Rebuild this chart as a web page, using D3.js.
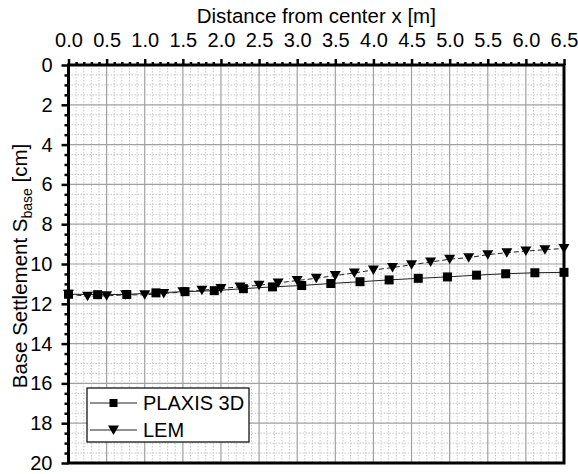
<!DOCTYPE html>
<html>
<head>
<meta charset="utf-8">
<script src="https://cdn.jsdelivr.net/npm/d3@7"></script>
<style>
  html, body { margin: 0; padding: 0; background: #fff; }
  svg { display: block; font-family: "Liberation Sans", Arial, sans-serif; }
</style>
</head>
<body>
<svg id="chart" width="578" height="474"></svg>
<script>
// Base settlement along the distance from the footing center
const plaxisX = [0, 0.382, 0.765, 1.147, 1.529, 1.912, 2.294, 2.676, 3.059, 3.441,
                 3.824, 4.206, 4.588, 4.971, 5.353, 5.735, 6.118, 6.5];
const plaxisS = [11.52, 11.54, 11.53, 11.45, 11.39, 11.34, 11.24, 11.15, 11.08, 10.98,
                 10.89, 10.80, 10.72, 10.65, 10.56, 10.49, 10.44, 10.42];

const lemX = [0, 0.25, 0.5, 0.75, 1.0, 1.25, 1.5, 1.75, 2.0, 2.25, 2.5, 2.75, 3.0,
              3.25, 3.5, 3.75, 4.0, 4.25, 4.5, 4.75, 5.0, 5.25, 5.5, 5.75, 6.0, 6.25, 6.5];
const lemS = [11.52, 11.62, 11.60, 11.55, 11.55, 11.48, 11.40, 11.32, 11.23, 11.15, 11.07, 10.95, 10.83,
              10.72, 10.58, 10.45, 10.30, 10.18, 10.04, 9.90, 9.76, 9.68, 9.53, 9.43, 9.35, 9.28, 9.22];

const xTicks = [0, 0.5, 1.0, 1.5, 2.0, 2.5, 3.0, 3.5, 4.0, 4.5, 5.0, 5.5, 6.0, 6.5];
const yTicks = [0, 2, 4, 6, 8, 10, 12, 14, 16, 18, 20];
const seriesNames = ["PLAXIS 3D", "LEM"];

const svg = d3.select("#chart");
const plotL = 68.5, plotR = 564, plotT = 65, plotB = 463;

const x = d3.scaleLinear().domain([0, 6.5]).range([plotL, plotR]);
const y = d3.scaleLinear().domain([0, 20]).range([plotT, plotB]);

const xMinor = d3.range(0, 65).map(i => i / 10).filter(v => Math.abs(v * 2 - Math.round(v * 2)) > 1e-6);
const yMinor = d3.range(0, 40).map(i => i / 2).filter(v => v % 2 !== 0);

// grid: dotted minor, solid major
const grid = svg.append("g");
grid.selectAll("line.vminor").data(xMinor).join("line")
  .attr("x1", d => x(d)).attr("x2", d => x(d)).attr("y1", plotT).attr("y2", plotB)
  .attr("stroke", "#c8c8c8").attr("stroke-width", 1).attr("stroke-dasharray", "1.5,1.5");
grid.selectAll("line.hminor").data(yMinor).join("line")
  .attr("x1", plotL).attr("x2", plotR).attr("y1", d => y(d)).attr("y2", d => y(d))
  .attr("stroke", "#c8c8c8").attr("stroke-width", 1).attr("stroke-dasharray", "1.5,1.5");
grid.selectAll("line.vmajor").data(xTicks).join("line")
  .attr("x1", d => x(d)).attr("x2", d => x(d)).attr("y1", plotT).attr("y2", plotB)
  .attr("stroke", "#a0a0a0").attr("stroke-width", 1.2);
grid.selectAll("line.hmajor").data(yTicks).join("line")
  .attr("x1", plotL).attr("x2", plotR).attr("y1", d => y(d)).attr("y2", d => y(d))
  .attr("stroke", "#a0a0a0").attr("stroke-width", 1.2);

// series lines
const lineGen = d3.line().x(d => x(d[0])).y(d => y(d[1]));
const plaxisPts = plaxisX.map((v, i) => [v, plaxisS[i]]);
const lemPts = lemX.map((v, i) => [v, lemS[i]]);

svg.append("path").datum(plaxisPts).attr("d", lineGen)
  .attr("fill", "none").attr("stroke", "#222").attr("stroke-width", 1);
svg.append("path").datum(lemPts).attr("d", lineGen)
  .attr("fill", "none").attr("stroke", "#222").attr("stroke-width", 1).attr("stroke-dasharray", "5,3");

const squareSym = d3.symbol().type(d3.symbolSquare).size(81);
const triDown = "M-5.5,-4.5L5.5,-4.5L0,5Z";

svg.append("g").selectAll("path").data(lemPts).join("path")
  .attr("d", triDown).attr("transform", d => `translate(${x(d[0])},${y(d[1])})`).attr("fill", "#000");
svg.append("g").selectAll("path").data(plaxisPts).join("path")
  .attr("d", squareSym).attr("transform", d => `translate(${x(d[0])},${y(d[1])})`).attr("fill", "#000");

// axes
const fmt = d3.format(".1f");
const topAxis = svg.append("g").attr("transform", `translate(0,${plotT})`)
  .call(d3.axisTop(x).tickValues(xTicks).tickSize(6).tickSizeOuter(0).tickFormat(fmt));
const topMinor = svg.append("g").attr("transform", `translate(0,${plotT})`)
  .call(d3.axisTop(x).tickValues(xMinor).tickSize(3).tickSizeOuter(0).tickFormat(""));
const leftAxis = svg.append("g").attr("transform", `translate(${plotL},0)`)
  .call(d3.axisLeft(y).tickValues(yTicks).tickSize(7).tickSizeOuter(0).tickFormat(d3.format("d")));
const leftMinor = svg.append("g").attr("transform", `translate(${plotL},0)`)
  .call(d3.axisLeft(y).tickValues(yMinor).tickSize(4).tickSizeOuter(0).tickFormat(""));

[topAxis, topMinor, leftAxis, leftMinor].forEach(g => {
  g.select(".domain").remove();
  g.attr("font-family", "Liberation Sans, Arial, sans-serif");
  g.selectAll(".tick line").attr("stroke", "#000").attr("stroke-width", 2.5);
});
topAxis.selectAll(".tick text").attr("font-size", 20).attr("fill", "#000").attr("y", -18).attr("dy", 0);
leftAxis.selectAll(".tick text").attr("font-size", 20).attr("fill", "#000").attr("x", -16);

// frame
svg.append("rect").attr("x", plotL).attr("y", plotT).attr("width", plotR - plotL).attr("height", plotB - plotT)
  .attr("fill", "none").attr("stroke", "#000").attr("stroke-width", 3);

// axis titles
svg.append("text").attr("x", (plotL + plotR) / 2).attr("y", 23).attr("text-anchor", "middle")
  .attr("font-size", 20.5).text("Distance from center x [m]");

const yl = svg.append("text").attr("transform", `translate(27,266) rotate(-90)`)
  .attr("text-anchor", "middle").attr("font-size", 20.5);
yl.append("tspan").text("Base Settlement S");
yl.append("tspan").attr("font-size", 14).attr("dy", 5).text("base");
yl.append("tspan").attr("dy", -5).text(" [cm]");

// legend
const lg = svg.append("g");
lg.append("rect").attr("x", 87).attr("y", 388).attr("width", 162).attr("height", 54)
  .attr("fill", "#fff").attr("stroke", "#000").attr("stroke-width", 1.2);
const rows = [
  { name: seriesNames[0], cy: 403, mark: squareSym.size(64)() },
  { name: seriesNames[1], cy: 430, mark: triDown }
];
rows.forEach(r => {
  lg.append("line").attr("x1", 90).attr("x2", 137).attr("y1", r.cy).attr("y2", r.cy)
    .attr("stroke", "#222").attr("stroke-width", 1);
  lg.append("path").attr("d", r.mark).attr("transform", `translate(113.5,${r.cy})`).attr("fill", "#000");
  lg.append("text").attr("x", 143).attr("y", r.cy + 7).attr("font-size", 20).text(r.name);
});
</script>
</body>
</html>
